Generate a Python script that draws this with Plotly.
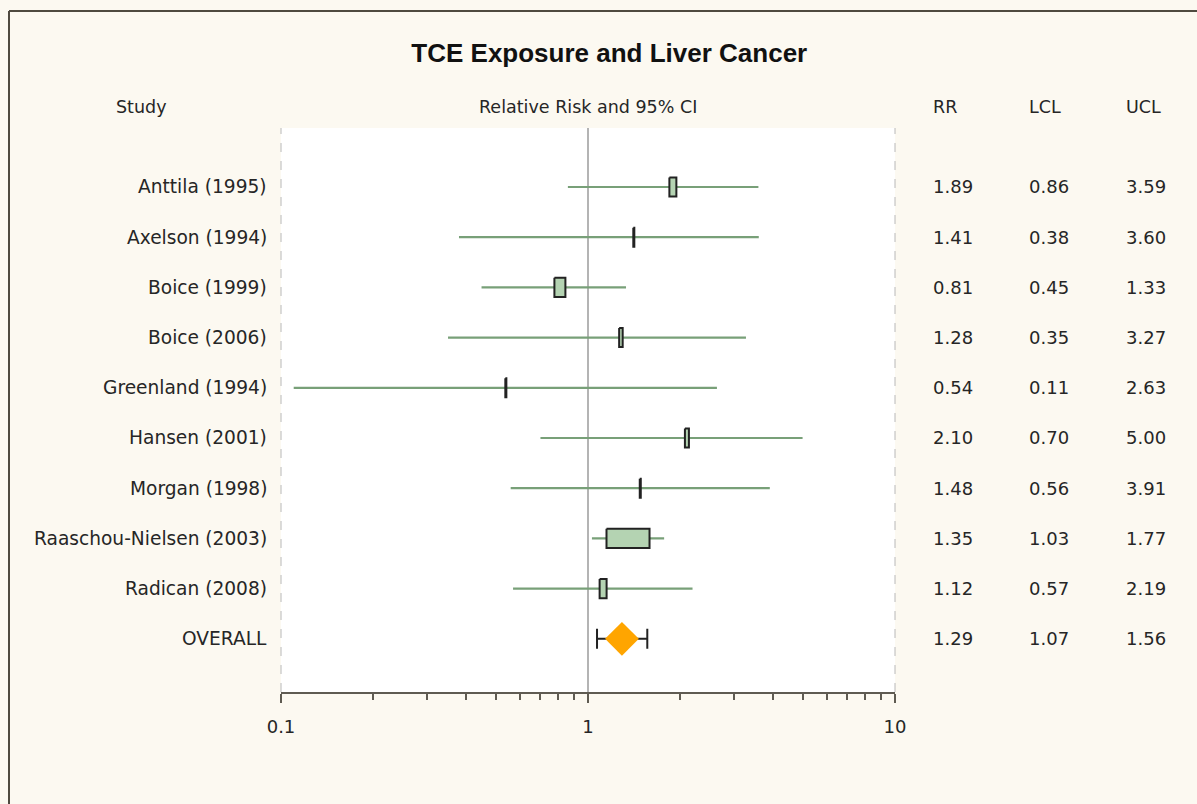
import plotly.graph_objects as go

# ---------------- data ----------------
studies = ["Anttila (1995)", "Axelson (1994)", "Boice (1999)", "Boice (2006)",
           "Greenland (1994)", "Hansen (2001)", "Morgan (1998)",
           "Raaschou-Nielsen (2003)", "Radican (2008)"]
rr = [1.89, 1.41, 0.81, 1.28, 0.54, 2.10, 1.48, 1.35, 1.12]
lcl = [0.86, 0.38, 0.45, 0.35, 0.11, 0.70, 0.56, 1.03, 0.57]
ucl = [3.59, 3.60, 1.33, 3.27, 2.63, 5.00, 3.91, 1.77, 2.19]
weight = [8.9, 1.3, 14.0, 4.5, 1.3, 5.1, 1.3, 54.8, 8.9]  # study weights (%)

overall_label = "OVERALL"
overall_rr = [1.29]
overall_lcl = [1.07]
overall_ucl = [1.56]

tick_vals = [0.1, 1, 10]
tick_text = ["0.1", "1", "10"]
minor_vals = [0.2, 0.3, 0.4, 0.5, 0.6, 0.7, 0.8, 0.9, 2, 3, 4, 5, 6, 7, 8, 9]

headers = ["Study", "Relative Risk and 95% CI", "RR", "LCL", "UCL"]
title = "TCE Exposure and Liver Cancer"

# ---------------- styles ----------------
FONT = "DejaVu Sans, Verdana, sans-serif"
TXT = "#262626"
GREEN = "#78A078"
BOXFILL = "#B4D3B2"
BG = "#FCF9F1"
AXIS = "#5F5B52"

L, R, T, B = 281, 302, 128, 112
W, H = 1197, 804
PW = W - L - R
PH = H - T - B
PX_PER_DECADE = PW / 2.0


def px(xpix):
    return (xpix - L) / PW


def py(ypix):
    return (H - B - ypix) / PH


rows = list(range(len(studies)))
overall_row = len(studies)

fig = go.Figure()

# CI lines (green)
fig.add_trace(go.Scatter(
    x=rr, y=rows, mode="markers",
    marker=dict(size=1, color="rgba(0,0,0,0)"),
    error_x=dict(type="data", symmetric=False,
                 array=[u - r for u, r in zip(ucl, rr)],
                 arrayminus=[r - l for r, l in zip(rr, lcl)],
                 color=GREEN, thickness=2.2, width=0),
    hoverinfo="skip", showlegend=False))

# boxes sized by weight
box_half_h = 0.19
for i, (r, w) in enumerate(zip(rr, weight)):
    hw = (w * 0.785) / 2.0 / PX_PER_DECADE
    x0 = r * 10 ** (-hw)
    x1 = r * 10 ** (hw)
    fig.add_trace(go.Scatter(
        x=[x0, x1, x1, x0, x0],
        y=[i - box_half_h, i - box_half_h, i + box_half_h, i + box_half_h, i - box_half_h],
        mode="lines", fill="toself", fillcolor=BOXFILL,
        line=dict(color="#222222", width=2),
        hoverinfo="skip", showlegend=False))

# overall CI with caps
fig.add_trace(go.Scatter(
    x=overall_rr, y=[overall_row], mode="markers",
    marker=dict(size=1, color="rgba(0,0,0,0)"),
    error_x=dict(type="data", symmetric=False,
                 array=[overall_ucl[0] - overall_rr[0]],
                 arrayminus=[overall_rr[0] - overall_lcl[0]],
                 color="#222222", thickness=2, width=10),
    hoverinfo="skip", showlegend=False))
# overall diamond
fig.add_trace(go.Scatter(
    x=overall_rr, y=[overall_row], mode="markers",
    marker=dict(symbol="diamond", size=26, color="#FFA500", line=dict(width=0)),
    hoverinfo="skip", showlegend=False))

annotations = []
labels = studies + [overall_label]
all_rr = rr + overall_rr
all_l = lcl + overall_lcl
all_u = ucl + overall_ucl
col_x = [px(931), px(1027), px(1124)]
for i, lab in enumerate(labels):
    annotations.append(dict(x=px(269), y=i, xref="paper", yref="y", text=lab,
                            xanchor="right", yanchor="middle", showarrow=False,
                            font=dict(family=FONT, size=18.6, color=TXT)))
    for cx, v in zip(col_x, [all_rr[i], all_l[i], all_u[i]]):
        annotations.append(dict(x=cx, y=i, xref="paper", yref="y", text=f"{v:.2f}",
                                xanchor="left", yanchor="middle", showarrow=False,
                                font=dict(family=FONT, size=18, color=TXT)))

# header row
hdr_pos = [(px(141), "center"), (0.5, "center"), (col_x[0], "left"),
           (col_x[1], "left"), (col_x[2], "left")]
for h, (hx, anc) in zip(headers, hdr_pos):
    annotations.append(dict(x=hx, y=py(107), xref="paper", yref="paper", text=h,
                            xanchor=anc, yanchor="middle", showarrow=False,
                            font=dict(family=FONT, size=17.5, color=TXT)))

shapes = [
    # reference line at RR = 1
    dict(type="line", xref="x", yref="paper", x0=1, x1=1, y0=0, y1=1,
         line=dict(color="#B4B4B4", width=2), layer="below"),
    # dashed plot edges
    dict(type="line", xref="paper", yref="paper", x0=0, x1=0, y0=0, y1=1,
         line=dict(color="#B8B8B8", width=1, dash="dash")),
    dict(type="line", xref="paper", yref="paper", x0=1, x1=1, y0=0, y1=1,
         line=dict(color="#B8B8B8", width=1, dash="dash")),
    # outer frame (left and top)
    dict(type="line", xref="paper", yref="paper", x0=px(9), x1=px(9),
         y0=py(11), y1=py(H + 10), line=dict(color="#4F4A40", width=2)),
    dict(type="line", xref="paper", yref="paper", x0=px(9), x1=px(W + 10),
         y0=py(11), y1=py(11), line=dict(color="#4F4A40", width=2)),
]

fig.update_layout(
    width=W, height=H,
    margin=dict(l=L, r=R, t=T, b=B, pad=0),
    paper_bgcolor=BG, plot_bgcolor="white",
    title=dict(text="<b>" + title + "</b>", x=0.509, xanchor="center",
               y=1 - 53 / H, yanchor="middle",
               font=dict(family="Liberation Sans, Arial, sans-serif", size=26, color="#111111")),
    xaxis=dict(type="log", range=[-1, 1], showgrid=False, zeroline=False,
               showline=True, linecolor=AXIS, linewidth=2,
               ticks="outside", ticklen=9, tickwidth=1.5, tickcolor=AXIS,
               tickvals=tick_vals, ticktext=tick_text, ticklabelstandoff=8,
               tickfont=dict(family=FONT, size=18, color=TXT),
               minor=dict(ticks="outside", ticklen=6, tickwidth=1.5, tickcolor=AXIS,
                          tickvals=minor_vals, showgrid=False),
               fixedrange=True),
    yaxis=dict(range=[10.06, -1.175], showgrid=False, zeroline=False,
               showticklabels=False, showline=False, fixedrange=True),
    annotations=annotations, shapes=shapes,
    showlegend=False,
)

fig.write_html("out.html", config={"displayModeBar": False},
               post_script="document.body.style.margin='0';document.body.style.overflow='hidden';")
